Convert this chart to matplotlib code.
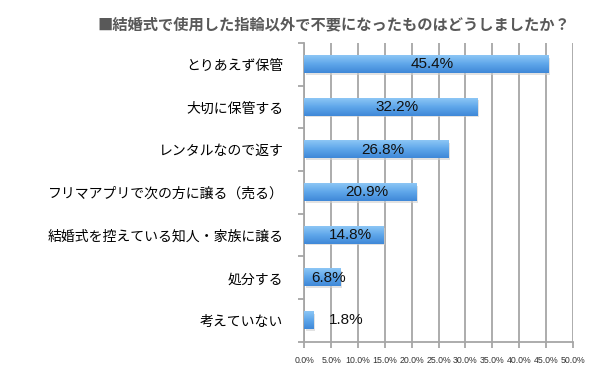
import numpy as np
import matplotlib
matplotlib.use("Agg")
import matplotlib.pyplot as plt
from matplotlib.colors import LinearSegmentedColormap

plt.rcParams['font.family'] = ['Noto Sans CJK JP', 'DejaVu Sans']

# データ（上から順）
labels = ["とりあえず保管", "大切に保管する", "レンタルなので返す",
          "フリマアプリで次の方に譲る（売る）", "結婚式を控えている知人・家族に譲る",
          "処分する", "考えていない"]
values = [45.4, 32.2, 26.8, 20.9, 14.8, 6.8, 1.8]
xticks = [0, 5, 10, 15, 20, 25, 30, 35, 40, 45, 50]

fig = plt.figure(figsize=(6, 3.74), dpi=100)
ax = fig.add_axes([0.507, 0.086, 0.448, 0.799])

y = np.arange(len(labels))[::-1]

# 縦グリッド
ax.set_xticks(xticks)
ax.set_xticklabels([f"{t:.1f}%" for t in xticks], fontsize=6.3, color="#333333",
                   family=["Liberation Sans", "DejaVu Sans"])
ax.grid(axis="x", color="#a6a6a6", linewidth=1.3, zorder=0)
ax.set_axisbelow(True)
ax.tick_params(axis="x", length=4, color="#a6a6a6", width=1.3, pad=6)

# 棒（影 + グラデーション）
bh = 0.4
ax.barh(y - 0.04, values, height=bh, left=0.25, color="#cfcfcf", alpha=0.6, zorder=2)
bars = ax.barh(y, values, height=bh, color="none", zorder=3)
cmap = LinearSegmentedColormap.from_list("b", ["#3f88d8", "#5ea6ea", "#8cc6f5"])
grad = np.linspace(0, 1, 64).reshape(-1, 1)
for b in bars:
    x0, y0 = b.get_x(), b.get_y()
    ax.imshow(grad, cmap=cmap, aspect="auto", origin="lower",
              extent=[x0, x0 + b.get_width(), y0, y0 + b.get_height()], zorder=3)
ax.set_xlim(0, 50)
ax.set_ylim(-0.5, len(labels) - 0.5)

# 数値ラベル
for yi, v in zip(y, values):
    lx = v / 2 + 1.2 if v > 5 else v + 6
    ax.text(lx, yi, f"{v}%", ha="center", va="center", fontsize=11,
            color="#111111", zorder=5, family=["Liberation Sans", "DejaVu Sans"])

# y軸
ax.set_yticks(np.arange(len(labels) + 1) - 0.5)
ax.set_yticklabels([])
ax.set_yticks(y, minor=True)
ax.set_yticklabels(labels, minor=True, fontsize=10, color="black")
ax.tick_params(axis="y", which="minor", length=0, pad=15)
ax.tick_params(axis="y", which="major", length=4, color="#a6a6a6", width=1.3)

for s in ["top", "right"]:
    ax.spines[s].set_visible(False)
for s in ["left", "bottom"]:
    ax.spines[s].set_color("#a6a6a6")
    ax.spines[s].set_linewidth(1.3)

fig.text(0.162, 0.935, "■結婚式で使用した指輪以外で不要になったものはどうしましたか？",
         fontsize=11, fontweight="bold", color="#595959", ha="left", va="center")

fig.savefig("out.png", dpi=100)
